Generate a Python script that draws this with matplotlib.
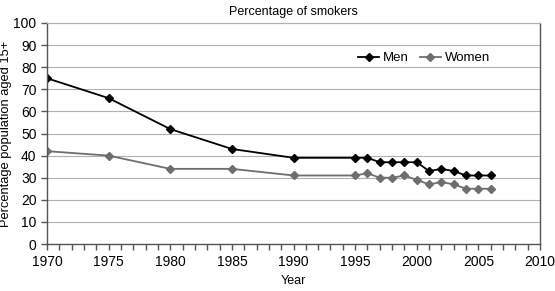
import matplotlib
matplotlib.use("Agg")
import matplotlib.pyplot as plt
from matplotlib.ticker import MultipleLocator

years = [1970, 1975, 1980, 1985, 1990, 1995, 1996, 1997, 1998, 1999, 2000,
         2001, 2002, 2003, 2004, 2005, 2006]
men = [75, 66, 52, 43, 39, 39, 39, 37, 37, 37, 37, 33, 34, 33, 31, 31, 31]
women = [42, 40, 34, 34, 31, 31, 32, 30, 30, 31, 29, 27, 28, 27, 25, 25, 25]

plt.rcParams['font.family'] = ['Liberation Sans', 'DejaVu Sans']
fig = plt.figure(figsize=(5.55, 2.91), dpi=100)
ax = fig.add_axes([47/555, 47/291, (540-47)/555, (244-23)/291])

ax.plot(years, men, color='black', marker='D', markersize=4, linewidth=1.3, label='Men')
ax.plot(years, women, color='#6e6e6e', marker='D', markersize=4, linewidth=1.3, label='Women')

ax.set_xlim(1970, 2010)
ax.set_ylim(0, 100)
ax.set_xticks(range(1970, 2011, 5))
ax.xaxis.set_minor_locator(MultipleLocator(1))
ax.set_yticks(range(0, 101, 10))
ax.yaxis.grid(True, color='#b0b0b0', linewidth=0.8)
ax.set_axisbelow(True)
for s in ['left', 'bottom', 'right']:
    ax.spines[s].set_color('#555555')
    ax.spines[s].set_linewidth(1.0)
ax.spines['top'].set_color('#b0b0b0')
ax.spines['top'].set_linewidth(0.8)
ax.tick_params(axis='both', labelsize=10, color='#555555', length=4, width=1)
ax.tick_params(axis='x', which='minor', length=4, width=1, color='#555555')
ax.tick_params(axis='x', which='major', pad=4)
ax.set_xlabel('Year', fontsize=9, labelpad=4)
ax.set_ylabel('Percentage population aged 15+', fontsize=9.3)
ax.yaxis.set_label_coords(-0.07, 0.5)
ax.set_title('Percentage of smokers', fontsize=9, pad=6)
ax.legend(loc='center', bbox_to_anchor=(0.765, 0.84), frameon=False, ncol=2,
          fontsize=9.5, handlelength=1.6, columnspacing=0.8, handletextpad=0.3, markerscale=0.9)

fig.savefig('out.png', dpi=100)
